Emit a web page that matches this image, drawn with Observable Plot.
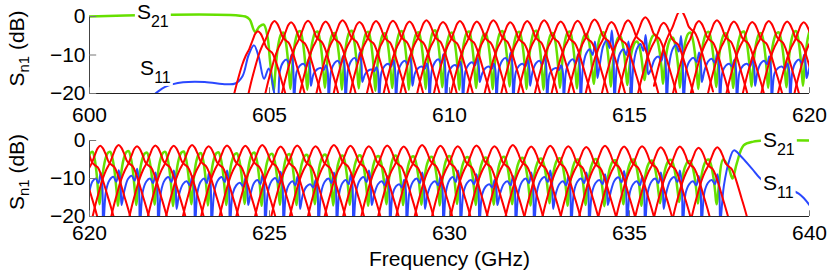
<!DOCTYPE html>
<html><head><meta charset="utf-8">
<script src="https://cdn.jsdelivr.net/npm/d3@7"></script>
<script src="https://cdn.jsdelivr.net/npm/@observablehq/plot@0.6"></script>
<style>
html,body{margin:0;padding:0;background:#fff;}
#chart svg{display:block;}
</style></head><body><div id="chart"></div>
<script>
// ---- tick values ----
const xTicksTop = [600, 605, 610, 615, 620];
const xTicksBottom = [620, 625, 630, 635, 640];
const yTicks = [0, -10, -20];

// ---- filter channel centre frequencies (GHz), read from red peaks ----
const chanF = [604.68, 605.14, 605.60, 606.07, 606.56, 607.03, 607.50, 607.96, 608.43, 608.89,
  609.36, 609.82, 610.29, 610.76, 611.22, 611.69, 612.16, 612.63, 613.09, 613.56,
  614.03, 614.50, 614.96, 615.44, 615.95, 616.42, 616.93, 617.43, 617.90, 618.41,
  618.87, 619.38, 619.84, 620.30, 620.81, 621.32, 621.83, 622.34, 622.85, 623.31,
  623.82, 624.33, 624.80, 625.31, 625.77, 626.28, 626.79, 627.25, 627.76, 628.27,
  628.73, 629.24, 629.75, 630.23, 630.75, 631.25, 631.76, 632.27, 632.80, 633.30,
  633.80, 634.32, 634.85, 635.35, 635.87, 636.40, 636.92, 637.44];
// peak level of each channel (dB)
const redPk = [-3.8, -1.2, -1.5, -1.1, -1.3, -1.0, -1.4, -1.2, -1.1, -1.3,
  -1.0, -1.4, -1.2, -1.3, -1.0, -1.5, -1.2, -1.0, -1.3, -1.1,
  -0.8, -1.4, -1.0, -0.2, -1.6, 1.5, -1.2, -1.0, -1.3, -1.4,
  -1.2, -1.3, -1.5, -1.4, -1.2, -1.5, -1.3, -1.4, -1.2, -1.5,
  -1.3, -1.4, -1.2, -1.6, -1.3, -1.5, -1.2, -1.4, -1.5, -1.3,
  -1.6, -1.2, -1.4, -1.5, -1.3, -1.5, -1.2, -1.6, -1.4, -1.5,
  -1.7, -1.4, -1.6, -1.5, -1.8, -1.6, -1.9, -1.8];
// shape of one channel response (offset GHz, dB below peak)
const redDx = [-0.74, -0.64, -0.54, -0.44, -0.34, -0.24, -0.15, -0.07, 0, 0.07, 0.15, 0.23, 0.31, 0.39, 0.47, 0.56, 0.66, 0.77, 0.9];
const redDb = [-19.5, -15.5, -12, -8.8, -6.4, -4.6, -2.4, -0.6, 0, -0.6, -2.2, -4.2, -5.0, -5.6, -7.2, -9.8, -13, -16.5, -21];

// ---- S21 (green) ----
const s21Start = [[600, 0], [604.33, 0], [604.45, -0.8], [604.6, -4], [604.72, -2.6], [604.84, -2.1], [604.94, -5], [605.02, -12]];
const s21End = [[637.6, -5], [637.75, -7], [637.86, -10], [637.98, -6], [638.17, -1.3], [638.44, -0.3], [638.8, 0], [640, 0]];
const s21Trough = [-19.2, -18.8, -19, -18.5, -19, -18.7, -19.3, -18.6, -19, -18.8,
  -18.4, -19, -18.6, -18.9, -18.2, -18.8, -19, -18.5, -18.7, -17.5,
  -18.2, -17.8, -16.5, -17.5, -18.5, -18.8, -18.3, -18.6, -18.2, -18.5,
  -18.4, -18.0,
  -16.8, -17.2, -17, -16.9, -17.3, -16.8, -17.1, -17, -16.7, -17.2,
  -16.9, -17, -16.8, -17.1, -16.9, -17.2, -16.8, -17, -16.9, -17.1,
  -16.7, -17, -16.9, -16.8, -17.1, -16.5, -17.2, -17, -17.3, -16.8,
  -17.2, -16.5, -16.2, -16.6, -16.8];
const s21Hump = [-4.2, -3.8, -3.9, -4.3, -3.7, -4.0, -4.4, -3.8, -4.1, -3.6,
  -4.2, -3.9, -4.5, -3.8, -4.0, -3.7, -4.3, -3.9, -4.6, -4.1,
  -5.2, -6.5, -4.8, -5.5, -4.2, -4.0, -4.4, -3.9, -4.3, -4.1,
  -3.8, -3.0,
  -3.0, -2.8, -3.2, -3.0, -2.9, -3.3, -3.1, -3.4, -3.2, -3.5,
  -3.6, -3.8, -3.7, -4.0, -3.9, -4.1, -4.0, -4.2, -4.3, -4.1,
  -4.4, -4.5, -4.3, -4.6, -4.8, -4.7, -5.0, -4.9, -5.2, -5.0,
  -5.3, -5.1, -5.4, -5.0, -5.0];
const s21Fr = [0.08, 0.18, 0.3, 0.45, 0.58, 0.7, 0.82, 0.92];
const s21W = [0.72, 0.4, 0.16, 0.02, 0, 0.12, 0.38, 0.72];

// ---- S11 (blue) ----
const s11Start = [[601.6, -21.5], [601.83, -20], [602.1, -18.3], [602.6, -17.1], [603.2, -17], [603.8, -17.6], [604.05, -17.4], [604.25, -15.5], [604.42, -10], [604.57, -7.5], [604.7, -10.5], [604.85, -16.2], [604.98, -13.5]];
const s11End = [[637.62, -12], [637.78, -5], [637.9, -2.6], [638.1, -4.2], [638.4, -7.4], [638.7, -10.5], [639.2, -12.2], [639.7, -14], [640, -17]];
const s11Dip = [-24, -24, -18, -24, -24, -17, -24, -24, -18, -24,
  -24, -24, -17, -24, -24, -18, -24, -24, -24, -16,
  -24, -24, -15, -24, -24, -17, -24, -24, -18, -24,
  -24, -16,
  -24, -17, -24, -24, -18, -24, -24, -24, -17, -24,
  -24, -18, -24, -24, -24, -17, -24, -24, -18, -24,
  -24, -24, -17, -24, -24, -18, -24, -24, -17, -24,
  -24, -18, -24, -24, -22];
const s11Hump = [-9.6, -11, -12.5, -10, -9, -13, -11, -10, -12, -9.5,
  -11.5, -10.5, -12, -9, -11, -10, -12.5, -9.5, -6, -3,
  -6, -4.2, -8.5, -4.5, -9, -9.3, -11, -11, -10, -12,
  -9.6, -8,
  -7.4, -7, -8, -7.5, -9, -8, -7.5, -9.5, -8.5, -7.8,
  -9, -10, -8, -8.5, -7.5, -9, -10, -8, -9, -7.5,
  -8.5, -10, -9, -8, -7.5, -9, -8, -8.5, -7.6, -9,
  -8, -7.5, -9, -8.5, -9];
const s11Fr = [0.15, 0.35, 0.55, 0.72, 0.85, 0.95];
const s11W = [0.7, 0.35, 0.25, 0.4, 0.05, 0.5];

// ---- build line tables ----
const red = [];
chanF.forEach((c, i) => redDx.forEach((dx, j) => red.push({ch: i, f: c + dx, db: (redPk[i] ?? -1.4) + redDb[j]})));

const s21 = s21Start.map(([f, db]) => ({f, db}));
for (let i = 1; i < chanF.length; i++) {
  const c = chanF[i], T = s21Trough[i - 1] ?? -17, H = s21Hump[i - 1] ?? -4;
  const t0 = c - 0.02;
  s21.push({f: t0, db: T});
  if (i < chanF.length - 1) {
    const g = chanF[i + 1] - c;
    s21Fr.forEach((fr, j) => s21.push({f: t0 + g * fr, db: H + (T - H) * s21W[j]}));
  }
}
s21End.forEach(([f, db]) => s21.push({f, db}));

const s11 = s11Start.map(([f, db]) => ({f, db}));
for (let i = 1; i < chanF.length; i++) {
  const c = chanF[i], D = s11Dip[i - 1] ?? -24, H = s11Hump[i - 1] ?? -9;
  const d0 = c + 0.08;
  s11.push({f: d0, db: D});
  if (i < chanF.length - 1) {
    const g = chanF[i + 1] - c;
    s11Fr.forEach((fr, j) => s11.push({f: d0 + g * fr, db: H + (-16 - H) * s11W[j]}));
  }
}
s11End.forEach(([f, db]) => s11.push({f, db}));

const FONT = "'Liberation Sans', Arial, Helvetica, sans-serif";
const GREEN = "#66e000", BLUE = "#2a48ff", RED = "#ff0000";

function panel(dom, ticks, h, mt, mb, pad, title) {
  const marks = [
    Plot.line(s21, {x: "f", y: "db", stroke: GREEN, strokeWidth: 2.5, curve: "catmull-rom", clip: true}),
    Plot.line(s11, {x: "f", y: "db", stroke: BLUE, strokeWidth: 2, curve: "catmull-rom", clip: true}),
    Plot.line(red, {x: "f", y: "db", z: "ch", stroke: RED, strokeWidth: 2, curve: "catmull-rom", clip: true}),
    Plot.ruleX([dom[0]], {y1: 0, y2: -20, stroke: "#444"}),
    Plot.ruleY([-20], {stroke: "#222"}),
    Plot.ruleX(ticks, {y1: -20, y2: -18.5, stroke: "#777"}),
    Plot.ruleY(yTicks, {x1: dom[0], x2: dom[0] + 0.2, stroke: "#777"}),
    Plot.axisX({ticks, tickSize: 0, tickPadding: pad, fontSize: 21, label: null}),
    Plot.axisY({ticks: yTicks, tickSize: 0, tickPadding: 4, fontSize: 21, label: null})
  ];
  if (title) marks.push(Plot.text([title], {text: d => d, frameAnchor: "bottom", dy: 35, lineAnchor: "top", fontSize: 21, fill: "#000"}));
  return Plot.plot({
    width: 830, height: h,
    marginLeft: 89, marginRight: 21, marginTop: mt, marginBottom: mb,
    x: {domain: dom},
    y: {domain: [-20, 0], insetTop: 3},
    style: {fontFamily: FONT, fontSize: "21px", color: "#000", background: "#fff"},
    marks
  });
}

const topPlot = panel([600, 620], xTicksTop, 127, 13, 34, 14, null);
const botPlot = panel([620, 640], xTicksBottom, 147, 10, 58, 9, "Frequency (GHz)");
const chartDiv = document.getElementById("chart");
chartDiv.appendChild(topPlot);
chartDiv.appendChild(botPlot);

function yLabel(svg) {
  const ys = svg.scale("y");
  const mid = (ys.apply(0) + ys.apply(-20)) / 2 - 6;
  const t = d3.select(svg).append("text")
    .attr("transform", `translate(23.5,${mid}) rotate(-90)`)
    .attr("text-anchor", "middle").attr("font-size", 21).attr("fill", "#000");
  t.append("tspan").text("S");
  t.append("tspan").attr("font-size", 15).attr("dy", 5).text("n1");
  t.append("tspan").attr("dy", -5).text(" (dB)");
}
function seriesLabel(svg, f, db, sub) {
  const x = svg.scale("x").apply(f), y = svg.scale("y").apply(db);
  const g = d3.select(svg).append("g");
  const t = g.append("text").attr("x", x).attr("y", y).attr("text-anchor", "start")
    .attr("font-size", 21).attr("fill", "#000");
  t.append("tspan").text("S");
  t.append("tspan").attr("font-size", 16).attr("dy", 8).text(sub);
  const b = t.node().getBBox();
  g.insert("rect", "text").attr("x", b.x - 2).attr("y", b.y + 2).attr("width", b.width + 4).attr("height", b.height - 2).attr("fill", "#fff");
}
yLabel(topPlot); yLabel(botPlot);
seriesLabel(topPlot, 601.33, -0.8, "21");
seriesLabel(topPlot, 601.42, -15.3, "11");
seriesLabel(botPlot, 638.72, -1.84, "21");
seriesLabel(botPlot, 638.72, -13.2, "11");
</script></body></html>
